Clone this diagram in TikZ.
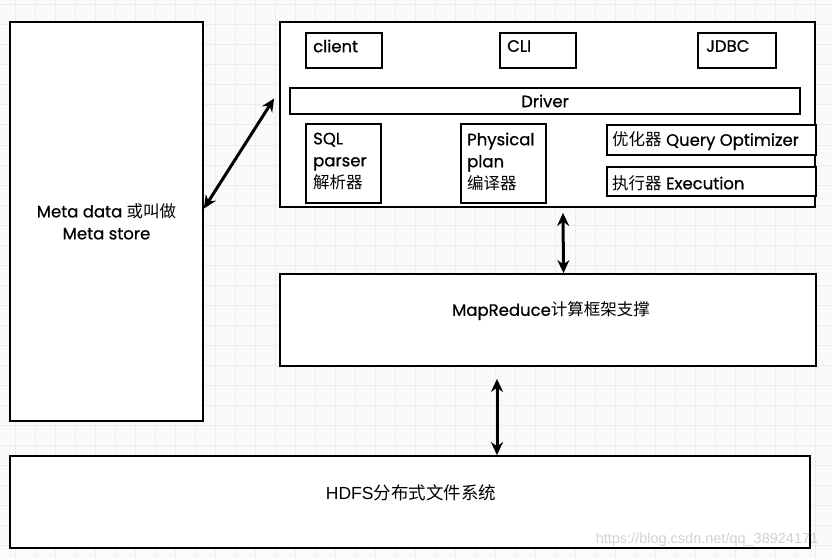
\documentclass[tikz,border=0pt]{standalone}
\usepackage{fontspec}
\setmainfont{Poppins}[FakeBold=0.7]
\newfontfamily\cjk{Noto Sans CJK SC}
\newfontfamily\arialfont{Liberation Sans}
\usetikzlibrary{arrows.meta}
\definecolor{paper}{HTML}{FAFAFA}
\definecolor{gridgray}{HTML}{EDEDED}
\tikzset{
  box/.style={draw, line width=1.8pt, fill=white, inner sep=0pt},
  lbl/.style={inner sep=0pt, font=\fontsize{16.5}{22}\selectfont, align=left},
  link/.style={<->, >={Stealth[length=13pt,width=12pt]}, line width=3pt},
  gridline/.style={draw=gridgray, line width=1pt}
}
\begin{document}
\begin{tikzpicture}[x=1pt,y=-1pt]
  \fill[paper] (0,0) rectangle (832,559);
  \useasboundingbox (0,0) rectangle (832,559);
  \foreach \gx in {15,35,...,815} \draw[gridline] (\gx,0) -- (\gx,559);
  \foreach \gy in {5,25,...,545} \draw[gridline] (0,\gy) -- (832,\gy);

  \node[box, minimum width=193, minimum height=399, lbl, align=center]
    (meta) at (106.5,221.5) {Meta data {\cjk 或叫做}\\Meta store};
  \node[box, minimum width=535, minimum height=185] (hive) at (547.5,114.5) {};
  \node[box, minimum width=536, minimum height=92] (mr) at (548,320) {};
  \node[box, minimum width=800, minimum height=92] (hdfs) at (410,502) {};

  \node[box, minimum width=76, minimum height=35] (client) at (344,50.5) {};
  \node[box, minimum width=76, minimum height=35] (cli) at (538,50.5) {};
  \node[box, minimum width=78, minimum height=35] (jdbc) at (737,50.5) {};
  \node[box, minimum width=510, minimum height=26, lbl] (driver) at (545,101) {Driver};
  \node[box, minimum width=75, minimum height=79] (parser) at (343.5,163.5) {};
  \node[box, minimum width=85, minimum height=79] (plan) at (503.5,163.5) {};
  \node[box, minimum width=209, minimum height=30] (optimizer) at (711.5,140) {};
  \node[box, minimum width=209, minimum height=29] (execution) at (711.5,181.5) {};

  \node[lbl, anchor=west] (clienttxt) at (313,46) {client};
  \node[lbl, anchor=west] (clitxt) at (507,46) {CLI};
  \node[lbl, anchor=west] (jdbctxt) at (706,46) {JDBC};
  \node[lbl, anchor=north west] (parsertxt) at (313,132.5) {SQL\\parser\\{\cjk 解析器}};
  \node[lbl, anchor=north west] (plantxt) at (467,132.5) {Physical\\plan\\{\cjk 编译器}};
  \node[lbl, anchor=west] (optimizertxt) at (612,141) {{\cjk 优化器} Query Optimizer};
  \node[lbl, anchor=west] (executiontxt) at (612,183) {{\cjk 执行器} Execution};
  \node[lbl] (mrtxt) at (551,311) {MapReduce{\cjk 计算框架支撑}};
  \node[lbl, font=\arialfont\fontsize{17.5}{20}\selectfont] (hdfstxt) at (411,493) {HDFS{\cjk 分布式文件系统}};
  \node[lbl, font=\arialfont\fontsize{14.5}{16}\selectfont, text=gray!35] (mark) at (707,540) {https://blog.csdn.net/qq\_38924171};

  \begin{scope}[link]
    \draw ([yshift=13pt]meta.east) -- ([xshift=-5pt,yshift=16pt]hive.west);
    \draw ([xshift=15.5pt,yshift=-5pt]hive.south) -- ([xshift=15.5pt]mr.north);
    \draw ([xshift=-51pt,yshift=-12pt]mr.south) -- ([xshift=87pt]hdfs.north);
  \end{scope}
\end{tikzpicture}
\end{document}
